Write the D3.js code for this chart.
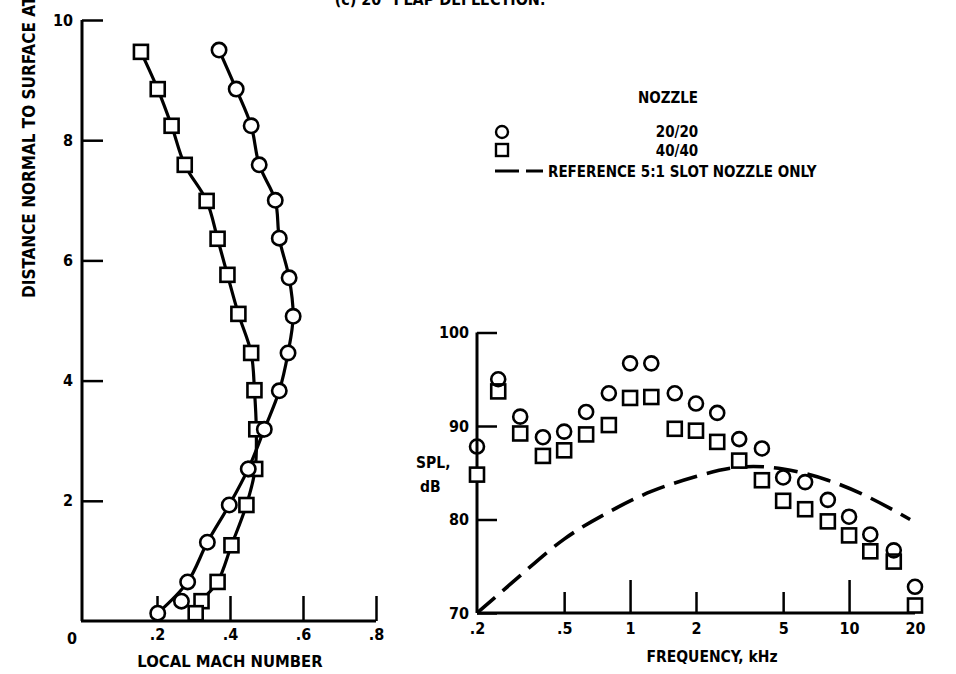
<!DOCTYPE html>
<html>
<head>
<meta charset="utf-8">
<script src="https://cdn.jsdelivr.net/npm/d3@7"></script>
<style>
  body { margin: 0; background: #fff; }
  text { font-family: "DejaVu Sans Condensed", "Liberation Sans Narrow", sans-serif; font-weight: bold; font-stretch: condensed; fill: #000; }
</style>
</head>
<body>
<div id="chart"></div>
<script>
// Left panel: local Mach number vs distance normal to surface
const dist20 = [9.5, 8.85, 8.24, 7.59, 7.0, 6.37, 5.71, 5.07, 4.46, 3.83, 3.19, 2.53, 1.93, 1.31, 0.65, 0.33, 0.13];
const mach20 = [0.37, 0.417, 0.458, 0.48, 0.524, 0.535, 0.562, 0.573, 0.559, 0.535, 0.494, 0.45, 0.398, 0.338, 0.284, 0.267, 0.202];
const dist40 = [9.47, 8.85, 8.24, 7.59, 6.99, 6.36, 5.76, 5.11, 4.46, 3.84, 3.19, 2.53, 1.93, 1.26, 0.65, 0.33, 0.13];
const mach40 = [0.156, 0.202, 0.24, 0.276, 0.336, 0.366, 0.393, 0.423, 0.458, 0.467, 0.472, 0.469, 0.445, 0.404, 0.366, 0.322, 0.306];
const offCurve20 = [0.33]; // point not on the faired curve

const machTicks = [0.2, 0.4, 0.6, 0.8];
const distTicks = [2, 4, 6, 8, 10];

// Right panel: SPL spectra
const freq = [0.2, 0.25, 0.315, 0.4, 0.5, 0.63, 0.8, 1, 1.25, 1.6, 2, 2.5, 3.15, 4, 5, 6.3, 8, 10, 12.5, 16, 20];
const spl20 = [87.8, 95.0, 91.0, 88.8, 89.4, 91.5, 93.5, 96.7, 96.7, 93.5, 92.4, 91.4, 88.6, 87.6, 84.5, 84.0, 82.1, 80.3, 78.4, 76.7, 72.8];
const spl40 = [84.8, 93.7, 89.2, 86.8, 87.4, 89.1, 90.1, 93.0, 93.1, 89.7, 89.5, 88.3, 86.3, 84.2, 82.0, 81.1, 79.8, 78.3, 76.6, 75.5, 70.8];
const refFreq = [0.2, 0.315, 0.5, 0.8, 1.25, 2, 3.15, 5, 8, 12.5, 19];
const refSpl = [70, 74.0, 77.9, 80.8, 83.0, 84.6, 85.6, 85.4, 84.2, 82.3, 80.0];

const freqTicks = [0.2, 0.5, 1, 2, 5, 10, 20];
const splTicks = [70, 80, 90, 100];

const W = 956, H = 674;
const svg = d3.select("#chart").append("svg")
    .attr("width", W)
    .attr("height", H);

svg.append("rect").attr("width", W).attr("height", H).attr("fill", "#fff");

// title, cut off at the top edge as in the scan
svg.append("text")
    .attr("x", 440).attr("y", 5)
    .attr("text-anchor", "middle")
    .style("font-size", "16px")
    .text("(c) 20° FLAP DEFLECTION.");

// ---------- left panel ----------
const x1 = d3.scaleLinear().domain([0, 0.8]).range([84, 376]);
const y1 = d3.scaleLinear().domain([0, 10]).range([621, 20]);

const axL = svg.append("g")
    .attr("transform", `translate(${x1(0) - 2},0)`)
    .call(d3.axisLeft(y1).tickValues(distTicks).tickSize(-21).tickPadding(9).tickFormat(d3.format("d")));
const axB = svg.append("g")
    .attr("transform", `translate(0,${y1(0)})`)
    .call(d3.axisBottom(x1).tickValues(machTicks).tickSize(-25).tickPadding(8)
        .tickFormat(d => String(d).replace("0.", ".")));

[axL, axB].forEach(g => {
    g.select(".domain").attr("stroke", "#000").attr("stroke-width", 3);
    g.selectAll(".tick line").attr("stroke", "#000").attr("stroke-width", 2.5);
    g.selectAll(".tick text").style("font-size", "16px").attr("fill", "#000");
});
// plain domain lines (no outer ticks)
axL.select(".domain").attr("d", `M0,${y1(0)}V${y1(10)}`);
axB.select(".domain").attr("d", `M${x1(0) - 3},0H${x1(0.8)}`);

svg.append("text")
    .attr("x", 72).attr("y", 644)
    .attr("text-anchor", "middle")
    .style("font-size", "16px")
    .text("0");

svg.append("text")
    .attr("x", 230).attr("y", 667)
    .attr("text-anchor", "middle")
    .style("font-size", "16.5px")
    .text("LOCAL MACH NUMBER");

// axis title runs off the top edge in the scan
svg.append("text")
    .attr("transform", "translate(35,298) rotate(-90)")
    .attr("text-anchor", "start")
    .style("font-size", "17px")
    .text("DISTANCE NORMAL TO SURFACE AT");

const pts20 = mach20.map((m, i) => ({ x: m, y: dist20[i] }));
const pts40 = mach40.map((m, i) => ({ x: m, y: dist40[i] }));

const lineL = d3.line()
    .x(d => x1(d.x))
    .y(d => y1(d.y))
    .curve(d3.curveCatmullRom.alpha(0.5));

svg.append("path")
    .datum(pts20.filter(d => !offCurve20.includes(d.y)))
    .attr("d", lineL)
    .attr("fill", "none").attr("stroke", "#000").attr("stroke-width", 3.2);
svg.append("path")
    .datum(pts40)
    .attr("d", lineL)
    .attr("fill", "none").attr("stroke", "#000").attr("stroke-width", 3.2);

svg.selectAll(".sq-left")
    .data(pts40)
    .enter().append("rect")
    .attr("class", "sq-left")
    .attr("x", d => x1(d.x) - 7)
    .attr("y", d => y1(d.y) - 7)
    .attr("width", 14).attr("height", 14)
    .attr("fill", "#fff").attr("stroke", "#000").attr("stroke-width", 2.6);

svg.selectAll(".ci-left")
    .data(pts20)
    .enter().append("circle")
    .attr("class", "ci-left")
    .attr("cx", d => x1(d.x))
    .attr("cy", d => y1(d.y))
    .attr("r", 7.2)
    .attr("fill", "#fff").attr("stroke", "#000").attr("stroke-width", 2.6);

// ---------- right panel ----------
const x2 = d3.scaleLog().domain([0.2, 20]).range([477, 915]);
const y2 = d3.scaleLinear().domain([70, 100]).range([613, 332.5]);

const axR = svg.append("g")
    .attr("transform", `translate(${x2(0.2)},0)`)
    .call(d3.axisLeft(y2).tickValues(splTicks).tickSize(-20).tickPadding(8).tickFormat(d3.format("d")));
const axF = svg.append("g")
    .attr("transform", `translate(0,${y2(70)})`)
    .call(d3.axisBottom(x2).tickValues(freqTicks).tickSize(0).tickPadding(10)
        .tickFormat(d => d < 1 ? String(d).replace("0.", ".") : String(d)));

axF.selectAll(".tick line")
    .attr("y2", d => (d === 1 || d === 10) ? -33 : (d === 0.2 || d === 20) ? 0 : -21);

[axR, axF].forEach(g => {
    g.select(".domain").attr("stroke", "#000").attr("stroke-width", 3);
    g.selectAll(".tick line").attr("stroke", "#000").attr("stroke-width", 2.5);
    g.selectAll(".tick text").style("font-size", "16px").attr("fill", "#000");
});
axR.select(".domain").attr("d", `M0,${y2(70)}V${y2(100)}`);
axF.select(".domain").attr("d", `M${x2(0.2)},0H${x2(20)}`);

svg.append("text")
    .attr("x", 712).attr("y", 662)
    .attr("text-anchor", "middle")
    .style("font-size", "15.5px")
    .text("FREQUENCY, kHz");

svg.append("text").attr("x", 416).attr("y", 468).style("font-size", "15.5px").text("SPL,");
svg.append("text").attr("x", 420).attr("y", 492).style("font-size", "15.5px").text("dB");

const refPts = refFreq.map((f, i) => ({ f: f, v: refSpl[i] }));
svg.append("path")
    .datum(refPts)
    .attr("d", d3.line().x(d => x2(d.f)).y(d => y2(d.v)).curve(d3.curveNatural))
    .attr("fill", "none").attr("stroke", "#000").attr("stroke-width", 3.6)
    .attr("stroke-dasharray", "24,10");

const sq = freq.map((f, i) => ({ f: f, v: spl40[i] }));
const ci = freq.map((f, i) => ({ f: f, v: spl20[i] }));

svg.selectAll(".sq-right")
    .data(sq)
    .enter().append("rect")
    .attr("class", "sq-right")
    .attr("x", d => x2(d.f) - 7)
    .attr("y", d => y2(d.v) - 7)
    .attr("width", 14).attr("height", 14)
    .attr("fill", "#fff").attr("stroke", "#000").attr("stroke-width", 2.6);

svg.selectAll(".ci-right")
    .data(ci)
    .enter().append("circle")
    .attr("class", "ci-right")
    .attr("cx", d => x2(d.f))
    .attr("cy", d => y2(d.v))
    .attr("r", 7)
    .attr("fill", "none").attr("stroke", "#000").attr("stroke-width", 2.6);

// ---------- legend ----------
const leg = svg.append("g");
leg.append("text").attr("x", 668).attr("y", 103).attr("text-anchor", "middle").style("font-size", "15px").text("NOZZLE");
leg.append("circle").attr("cx", 502).attr("cy", 132).attr("r", 6)
    .attr("fill", "#fff").attr("stroke", "#000").attr("stroke-width", 2.4);
leg.append("text").attr("x", 677).attr("y", 137).attr("text-anchor", "middle").style("font-size", "15px").text("20/20");
leg.append("rect").attr("x", 496).attr("y", 144).attr("width", 12).attr("height", 12)
    .attr("fill", "#fff").attr("stroke", "#000").attr("stroke-width", 2.4);
leg.append("text").attr("x", 677).attr("y", 156).attr("text-anchor", "middle").style("font-size", "15px").text("40/40");
leg.append("line").attr("x1", 495).attr("x2", 543).attr("y1", 171).attr("y2", 171)
    .attr("stroke", "#000").attr("stroke-width", 3.2).attr("stroke-dasharray", "24,7");
leg.append("text").attr("x", 548).attr("y", 177).style("font-size", "15px").text("REFERENCE 5:1 SLOT NOZZLE ONLY");
</script>
</body>
</html>
